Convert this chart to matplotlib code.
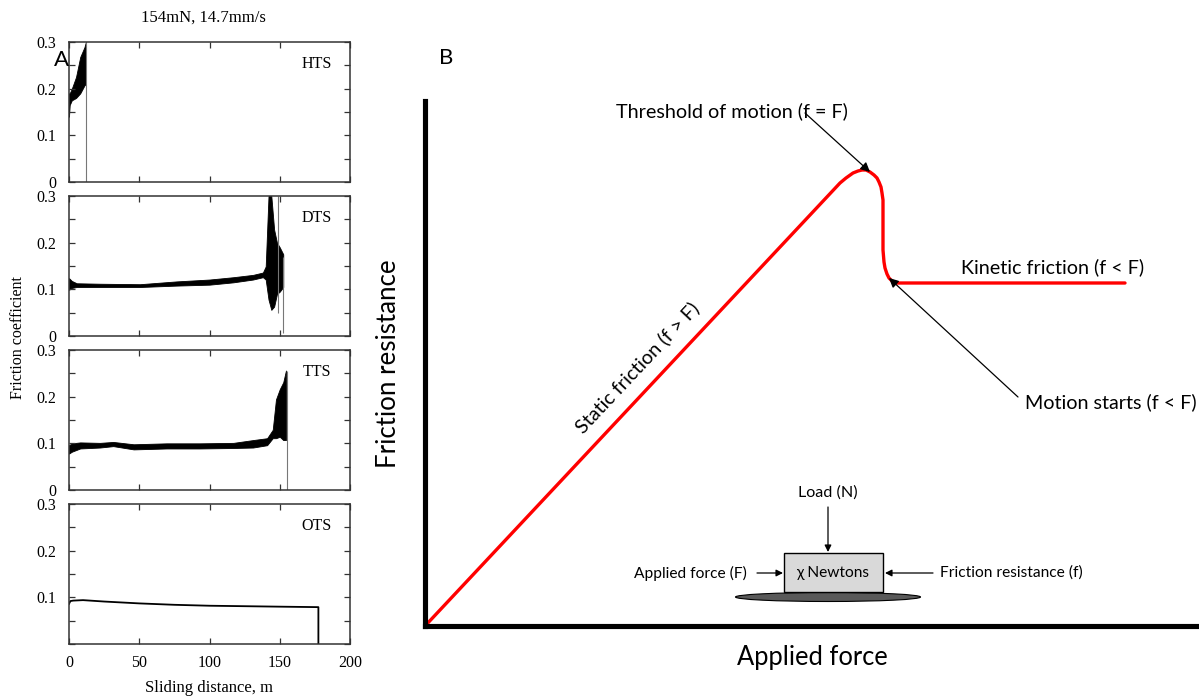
import matplotlib.pyplot as plt
from matplotlib.patches import Rectangle, Ellipse
from matplotlib.ticker import MultipleLocator, FixedLocator, FixedFormatter

# ---- panel A: friction coefficient traces (envelope of the noisy signal) ----
hts_x = [0, 0.5, 2, 5, 8, 11, 12]
hts_lo = [0.14, 0.165, 0.175, 0.18, 0.19, 0.207, 0.21]
hts_hi = [0.19, 0.19, 0.20, 0.225, 0.268, 0.289, 0.30]
hts_drop = [(12, 0.0, 0.30)]

dts_x = [0, 2, 5.5, 22, 50.5, 76.6, 100, 117, 131, 138, 140, 142, 144, 146, 148, 150, 152.5]
dts_lo = [0.099, 0.103, 0.105, 0.105, 0.105, 0.108, 0.110, 0.115, 0.121, 0.126, 0.121,
          0.078, 0.056, 0.063, 0.090, 0.095, 0.105]
dts_hi = [0.124, 0.118, 0.113, 0.112, 0.111, 0.117, 0.121, 0.126, 0.131, 0.136, 0.149,
          0.30, 0.30, 0.228, 0.200, 0.190, 0.175]
dts_drop = [(149, 0.05, 0.30), (152.5, 0.006, 0.17)]

tts_x = [0, 2, 8, 22, 31.5, 46, 69.5, 93, 117, 131, 141, 145, 147.3, 150, 152.5, 154.4]
tts_lo = [0.078, 0.082, 0.089, 0.091, 0.094, 0.087, 0.089, 0.089, 0.090, 0.091, 0.096,
          0.111, 0.111, 0.114, 0.107, 0.107]
tts_hi = [0.096, 0.100, 0.102, 0.101, 0.103, 0.098, 0.100, 0.100, 0.101, 0.107, 0.111,
          0.129, 0.194, 0.216, 0.231, 0.256]
tts_drop = [(155.4, 0.0, 0.256)]

ots_x = [0, 1, 3, 10, 25, 50, 75, 100, 125, 150, 177.5, 177.5]
ots_y = [0.086, 0.092, 0.093, 0.094, 0.091, 0.087, 0.084, 0.082, 0.081, 0.080, 0.079, 0.0]

panel_names = ['HTS', 'DTS', 'TTS', 'OTS']
y_ticks = [0, 0.1, 0.2, 0.3]
y_labels = ['0', '0.1', '0.2', '0.3']
x_ticks = [0, 50, 100, 150, 200]

# ---- panel B: schematic friction curve ----
applied_force = [0, 415, 421, 428, 433, 437, 441, 445, 449, 452, 454, 456, 457, 458,
                 458, 458, 459, 460, 462, 464, 467, 471, 475, 700]
friction_res = [0, 443, 448, 453, 455, 456, 456, 454, 451, 448, 444, 439, 433, 426,
                400, 376, 364, 358, 352, 348, 345, 343, 343, 343]
i_threshold = 7
i_motion = 19

W, H = 1199, 696
fig = plt.figure(figsize=(W / 100, H / 100), dpi=100)

serif = 'Liberation Serif'
sans = 'Lato'
frame = '#333333'

tops = [42, 196, 350, 504]
for i, top in enumerate(tops):
    ax = fig.add_axes([69 / W, (H - top - 140) / H, 281 / W, 140 / H])
    ax.set_xlim(0, 200)
    ax.set_ylim(0, 0.3)
    if i == 0:
        ax.fill_between(hts_x, hts_lo, hts_hi, color='black', lw=0.6)
        drops = hts_drop
    elif i == 1:
        ax.fill_between(dts_x, dts_lo, dts_hi, color='black', lw=0.6)
        drops = dts_drop
    elif i == 2:
        ax.fill_between(tts_x, tts_lo, tts_hi, color='black', lw=0.6)
        drops = tts_drop
    else:
        ax.plot(ots_x, ots_y, color='black', lw=1.3)
        drops = []
    for x, lo, hi in drops:
        ax.vlines(x, lo, hi, color='#777777', lw=0.8)

    ax.text(176.5, 0.252, panel_names[i], family=serif, fontsize=11.5,
            ha='center', va='center')

    ax.yaxis.set_major_locator(FixedLocator(y_ticks))
    labels = list(y_labels)
    if i == 3:
        labels[0] = ''
    ax.yaxis.set_major_formatter(FixedFormatter(labels))
    ax.yaxis.set_minor_locator(MultipleLocator(0.05))
    ax.xaxis.set_major_locator(FixedLocator(x_ticks))
    ax.tick_params(which='both', direction='in', top=True, right=True,
                   length=4, width=0.9, color=frame, labelsize=11.5)
    ax.tick_params(axis='y', pad=9)
    ax.tick_params(axis='x', pad=8)
    if i < 3:
        ax.tick_params(axis='x', labelbottom=False)
    for lab in ax.get_xticklabels() + ax.get_yticklabels():
        lab.set_family(serif)
    for sp in ax.spines.values():
        sp.set_color(frame)
        sp.set_linewidth(1.1)

# ---- panel B axes ----
axb = fig.add_axes([425 / W, (H - 626) / H, 774 / W, 525 / H])
axb.set_xlim(0, 774)
axb.set_ylim(0, 525)
axb.set_xticks([])
axb.set_yticks([])
axb.patch.set_alpha(0)
for name in ['top', 'right']:
    axb.spines[name].set_visible(False)
for name in ['left', 'bottom']:
    axb.spines[name].set_linewidth(3.7)
    axb.spines[name].set_capstyle('projecting')
axb.plot(applied_force, friction_res, color='red', lw=2.4,
         solid_joinstyle='round', solid_capstyle='round', clip_on=False)

# ---- overlay in pixel coordinates for labels and the block diagram ----
ov = fig.add_axes([0, 0, 1, 1], zorder=5)
ov.set_xlim(0, W)
ov.set_ylim(H, 0)
ov.axis('off')

ov.text(203, 18, '154mN, 14.7mm/s', family=serif, fontsize=12, ha='center', va='center')
ov.text(18, 338, 'Friction coefficient', family=serif, fontsize=11.5,
        rotation=90, ha='center', va='center')
ov.text(209, 688, 'Sliding distance, m', family=serif, fontsize=12, ha='center', va='center')

ov.text(61, 60, 'A', family=sans, fontsize=16, ha='center', va='center')
ov.text(446, 58, 'B', family=sans, fontsize=16, ha='center', va='center')

ov.text(388, 364, 'Friction resistance', family=sans, fontsize=18.6,
        rotation=90, ha='center', va='center')
ov.text(812, 657, 'Applied force', family=sans, fontsize=18.4, ha='center', va='center')

ov.text(732, 111, 'Threshold of motion (f = F)', family=sans, fontsize=14.2,
        ha='center', va='center')
ov.text(1053, 267, 'Kinetic friction (f < F)', family=sans, fontsize=14.2,
        ha='center', va='center')
ov.text(1111, 402, 'Motion starts (f < F)', family=sans, fontsize=14.2,
        ha='center', va='center')
ov.text(637, 368, 'Static friction (f > F)', family=sans, fontsize=14.2,
        rotation=46.8, rotation_mode='anchor', ha='center', va='center')

arrow = dict(arrowstyle='-|>', color='black', lw=0.9, mutation_scale=14,
             shrinkA=0, shrinkB=0)
ov.annotate('', xy=(applied_force[i_threshold], friction_res[i_threshold]),
            xycoords=axb.transData, xytext=(805, 113), textcoords=ov.transData,
            arrowprops=arrow)
ov.annotate('', xy=(applied_force[i_motion], friction_res[i_motion]),
            xycoords=axb.transData, xytext=(1018, 397), textcoords=ov.transData,
            arrowprops=arrow)

# block on a surface with the forces acting on it
ov.add_patch(Ellipse((828, 597), 185, 9, facecolor='#595959', edgecolor='black', lw=0.8))
ov.add_patch(Rectangle((784, 553), 99, 39, facecolor='#d9d9d9', edgecolor='black', lw=1.0))
ov.text(833, 573, 'χ Newtons', family=[sans, 'DejaVu Sans'], fontsize=11.2,
        ha='center', va='center')
ov.text(828, 493, 'Load (N)', family=sans, fontsize=11.6, ha='center', va='center')
ov.text(690, 573, 'Applied force (F)', family=sans, fontsize=11.2, ha='center', va='center')
ov.text(940, 573, 'Friction resistance (f)', family=sans, fontsize=11.2,
        ha='left', va='center')
small = dict(arrowstyle='-|>', color='black', lw=0.9, mutation_scale=10,
             shrinkA=0, shrinkB=0)
ov.annotate('', xy=(828, 552), xytext=(828, 507), arrowprops=small)
ov.annotate('', xy=(783, 573), xytext=(757, 573), arrowprops=small)
ov.annotate('', xy=(885, 573), xytext=(933, 573), arrowprops=small)

fig.savefig('out.png', dpi=100)
